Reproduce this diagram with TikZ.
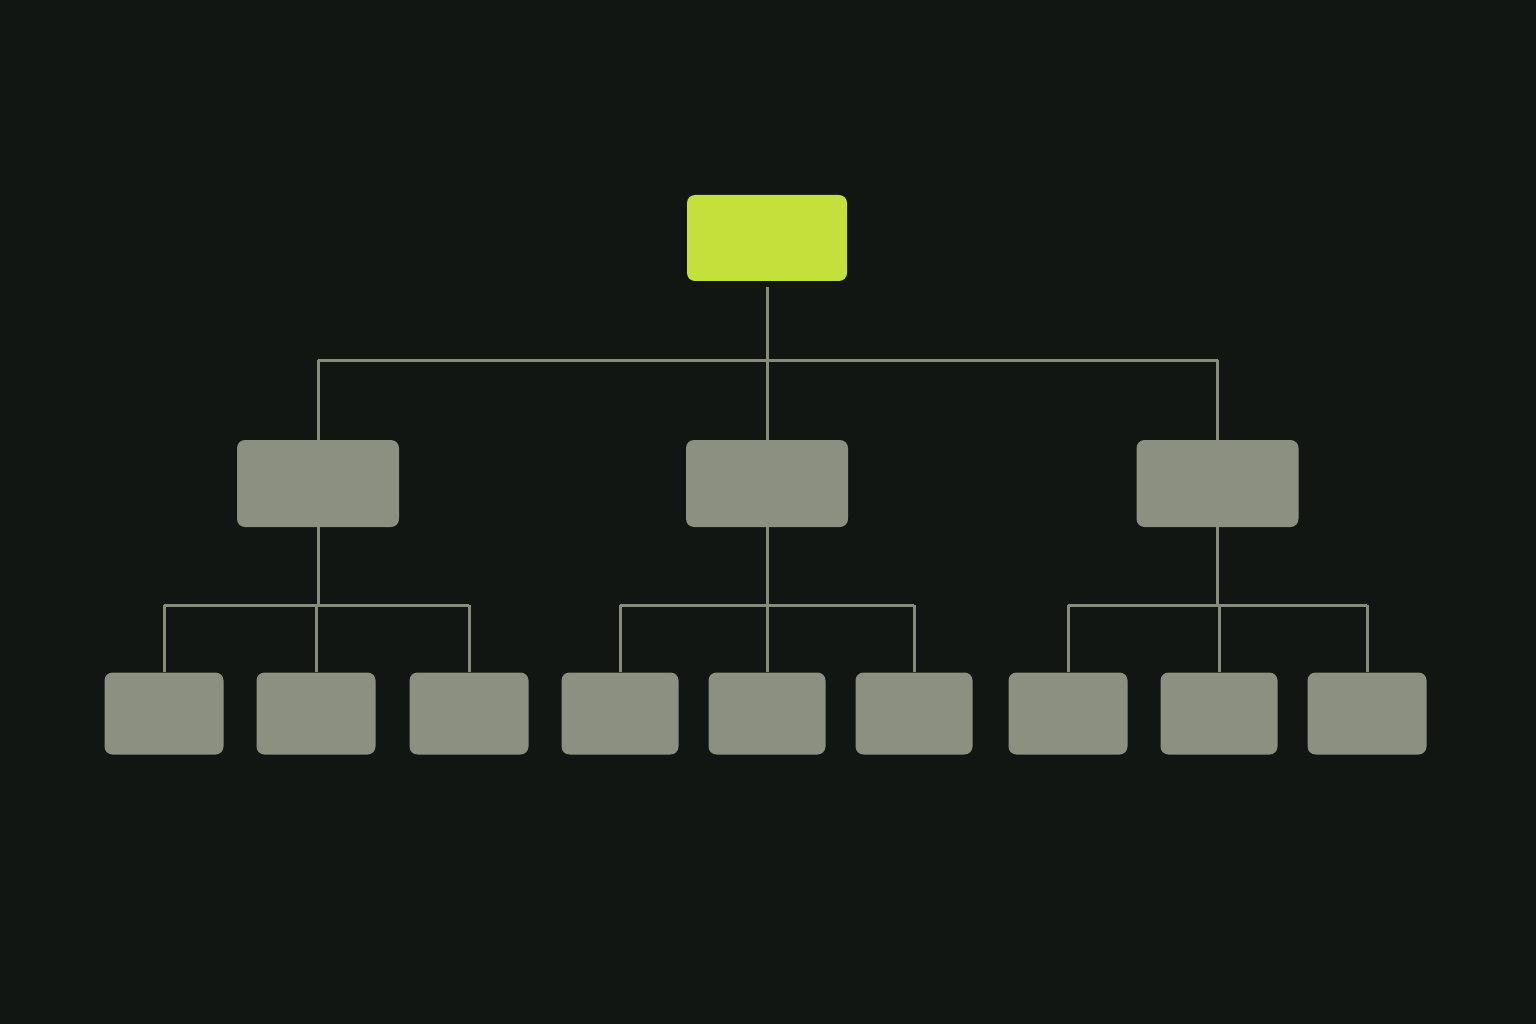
\documentclass[tikz,border=0pt]{standalone}
\begin{document}
\begin{tikzpicture}[x=1pt,y=-1pt,
  box/.style={rounded corners=8pt,inner sep=0pt,draw=none,fill=boxcol},
  rootbox/.style={box,fill=rootcol,minimum width=160pt,minimum height=86pt},
  midbox/.style={box,minimum width=162pt,minimum height=87pt},
  leafbox/.style={box,minimum width=119pt,minimum height=82pt},
  conn/.style={draw=linecol,line width=3pt}]
\definecolor{bgcol}{HTML}{111612}
\definecolor{boxcol}{HTML}{8C9080}
\definecolor{rootcol}{HTML}{C5E03A}
\definecolor{linecol}{HTML}{878B7A}
\useasboundingbox (0,0) rectangle (1536,1024);
\fill[bgcol] (0,0) rectangle (1536,1024);
% nodes
\node[rootbox] (root) at (767,238) {};
\node[midbox] (m1) at (318,483.5) {};
\node[midbox] (m2) at (767,483.5) {};
\node[midbox] (m3) at (1217.5,483.5) {};
\node[leafbox] (l1) at (164,713.5) {};
\node[leafbox] (l2) at (316,713.5) {};
\node[leafbox] (l3) at (469,713.5) {};
\node[leafbox,minimum width=117pt] (l4) at (620,713.5) {};
\node[leafbox,minimum width=117pt] (l5) at (767,713.5) {};
\node[leafbox,minimum width=117pt] (l6) at (914,713.5) {};
\node[leafbox] (l7) at (1068,713.5) {};
\node[leafbox,minimum width=117pt] (l8) at (1219,713.5) {};
\node[leafbox] (l9) at (1367,713.5) {};
% coordinates
\coordinate (r0) at (767,287);
\coordinate (rb) at (767,360);
\coordinate (b1) at (318,605);
\coordinate (b2) at (767,605);
\coordinate (b3) at (1217.5,605);
% connectors
\draw[conn] (r0) -- (rb);
\draw[conn] (rb -| m1.north) -- (rb -| m3.north);
\draw[conn] (rb -| m1.north) -- (m1.north);
\draw[conn] (rb) -- (m2.north);
\draw[conn] (rb -| m3.north) -- (m3.north);
\draw[conn] (m1.south) -- (b1);
\draw[conn] (m2.south) -- (b2);
\draw[conn] (m3.south) -- (b3);
\draw[conn] (b1 -| l1.north) -- (b1 -| l3.north);
\draw[conn] (b2 -| l4.north) -- (b2 -| l6.north);
\draw[conn] (b3 -| l7.north) -- (b3 -| l9.north);
\foreach \l/\b in {l1/b1,l2/b1,l3/b1,l4/b2,l5/b2,l6/b2,l7/b3,l8/b3,l9/b3}
  \draw[conn] (\b -| \l.north) -- (\l.north);
\end{tikzpicture}
\end{document}
